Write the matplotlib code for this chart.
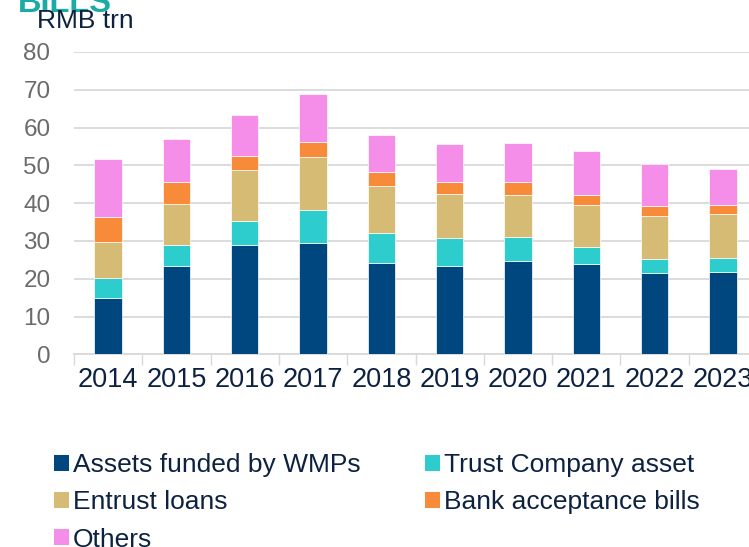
import numpy as np
import matplotlib.pyplot as plt
from matplotlib.patches import Patch

plt.rcParams['font.family'] = ['Liberation Sans', 'DejaVu Sans']

# data (RMB trn)
years = ['2014', '2015', '2016', '2017', '2018', '2019', '2020', '2021', '2022', '2023']
wmp = [14.9, 23.3, 28.9, 29.5, 24.2, 23.3, 24.6, 23.9, 21.4, 21.8]
trust = [5.3, 5.6, 6.3, 8.6, 7.9, 7.5, 6.4, 4.4, 3.8, 3.7]
entrust = [9.5, 10.8, 13.5, 14.0, 12.5, 11.5, 11.1, 11.1, 11.3, 11.5]
bab = [6.6, 5.9, 3.7, 4.2, 3.6, 3.3, 3.5, 2.8, 2.7, 2.4]
others = [15.5, 11.4, 10.8, 12.7, 9.7, 10.1, 10.2, 11.5, 11.2, 9.5]

series = [
    ('Assets funded by WMPs', wmp, '#00467f'),
    ('Trust Company asset', trust, '#2ecdcd'),
    ('Entrust loans', entrust, '#d6bb74'),
    ('Bank acceptance bills', bab, '#f78b39'),
    ('Others', others, '#f48ee8'),
]

navy_txt = '#0d2240'
grey_txt = '#6b6b6b'

fig = plt.figure(figsize=(7.49, 5.47), dpi=100)
ax = fig.add_axes([0.0988, 0.3523, 0.912, 0.5527])

x = np.arange(len(years))
bottom = np.zeros(len(years))
handles = {}
for name, vals, col in series:
    ax.bar(x, vals, width=0.4, bottom=bottom, color=col,
           edgecolor='white', linewidth=0.5, zorder=3)
    bottom += np.array(vals)
    handles[name] = Patch(facecolor=col, edgecolor='none')

ax.set_xlim(-0.5, len(years) - 0.5)
ax.set_ylim(0, 80)
ax.set_yticks(range(0, 81, 10))
ax.yaxis.grid(True, color='#d9d9d9', linewidth=1.3, zorder=0)
ax.tick_params(axis='y', length=0, pad=17, labelsize=17.5, labelcolor=grey_txt)

# category boundary ticks on x axis
ax.set_xticks(x)
ax.set_xticklabels(years)
ax.set_xticks(np.arange(-0.5, len(years), 1), minor=True)
ax.tick_params(axis='x', which='major', length=0, pad=9, labelsize=19.5, labelcolor=navy_txt)
ax.tick_params(axis='x', which='minor', length=8, width=1, color='#d9d9d9', direction='out')

for s in ['top', 'right', 'left']:
    ax.spines[s].set_visible(False)
ax.spines['bottom'].set_color('#d9d9d9')
ax.spines['bottom'].set_linewidth(1.3)

# title (cut off at top) and unit label
fig.text(0.024, 0.978, 'BILLS', color='#1aaba5', fontsize=23.5, fontweight='bold', va='baseline')
fig.text(0.049, 0.948, 'RMB trn', color=navy_txt, fontsize=19, va='baseline')

order = ['Assets funded by WMPs', 'Entrust loans', 'Others',
         'Trust Company asset', 'Bank acceptance bills']
fig.legend([handles[n] for n in order], order, ncol=2, frameon=False,
           loc='upper left', bbox_to_anchor=(0.0546, 0.1956),
           fontsize=19, labelcolor=navy_txt, handlelength=0.55, handleheight=0.53,
           handletextpad=0.15, columnspacing=2.46, labelspacing=0.5, borderpad=0)

fig.savefig('out.png', dpi=100)
